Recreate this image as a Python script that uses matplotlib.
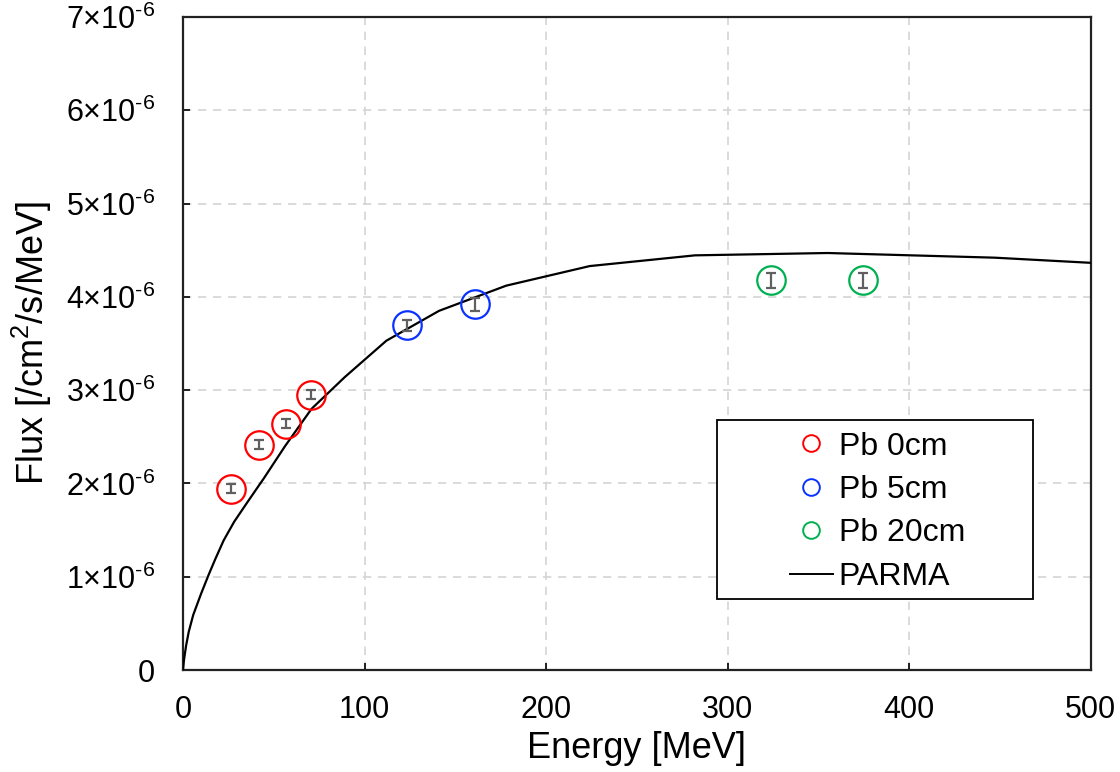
import matplotlib
matplotlib.use("Agg")
import matplotlib.pyplot as plt
from matplotlib.lines import Line2D
from matplotlib.patches import Rectangle
from matplotlib.ticker import FixedLocator, FuncFormatter

plt.rcParams['font.family'] = ['Liberation Sans', 'DejaVu Sans']
plt.rcParams['mathtext.fontset'] = 'custom'
plt.rcParams['mathtext.rm'] = 'Liberation Sans'
plt.rcParams['mathtext.it'] = 'Liberation Sans:italic'
plt.rcParams['mathtext.bf'] = 'Liberation Sans:bold'

# Measured flux (units of 1e-6 /cm2/s/MeV)
pb0_energy = [26.5, 41.9, 56.8, 70.6]
pb0_flux = [1.943, 2.416, 2.641, 2.953]
pb0_err = [0.05, 0.05, 0.05, 0.05]

pb5_energy = [123.5, 161.0]
pb5_flux = [3.693, 3.919]
pb5_err = [0.06, 0.07]

pb20_energy = [323.6, 374.3]
pb20_flux = [4.177, 4.177]
pb20_err = [0.08, 0.08]

# PARMA model spectrum
parma_energy = [0.0, 0.5, 1.0, 1.78, 3.16, 5.62, 10.0, 14.1, 17.8, 22.4, 28.2,
                35.5, 44.7, 56.2, 70.8, 89.1, 112.0, 141.0, 178.0, 224.0,
                282.0, 355.0, 447.0, 562.0]
parma_flux = [0.0, 0.10, 0.17, 0.27, 0.41, 0.59, 0.82, 1.02, 1.19, 1.39, 1.59,
              1.80, 2.06, 2.40, 2.80, 3.14, 3.53, 3.85, 4.12, 4.33,
              4.445, 4.47, 4.42, 4.30]

scale = 1e-6
series = [
    ("Pb 0cm", pb0_energy, pb0_flux, pb0_err, "#ff0000"),
    ("Pb 5cm", pb5_energy, pb5_flux, pb5_err, "#0a32ff"),
    ("Pb 20cm", pb20_energy, pb20_flux, pb20_err, "#00b050"),
]

fig = plt.figure(figsize=(11.2, 7.72), dpi=100)
ax = fig.add_axes([0.1634, 0.1321, 0.8106, 0.8459])

ax.plot(parma_energy, [v * scale for v in parma_flux], color="black", lw=1.6, zorder=3)

handles = []
for label, e, f, err, col in series:
    ax.errorbar(e, [v * scale for v in f], yerr=[v * scale for v in err],
                fmt="none", ecolor="#606060", elinewidth=1.6, capsize=3.5,
                capthick=1.6, zorder=4)
    ax.plot(e, [v * scale for v in f], "o", ms=20.5, mfc="none", mec=col,
            mew=1.6, zorder=5)
    handles.append(Line2D([], [], ls="none", marker="o", ms=12, mfc="none",
                          mec=col, mew=1.4, label=label))
handles.append(Line2D([], [], color="black", lw=1.4, label="PARMA"))

ax.set_xlim(0, 500)
ax.set_ylim(0, 7e-6)
ax.xaxis.set_major_locator(FixedLocator([0, 100, 200, 300, 400, 500]))
ax.yaxis.set_major_locator(FixedLocator([i * 1e-6 for i in range(8)]))


def fmt_y(v, pos):
    n = int(round(v / 1e-6))
    if n == 0:
        return "0"
    return r"$\mathregular{%d{\times}10^{\text{-6}}}$" % n


ax.yaxis.set_major_formatter(FuncFormatter(fmt_y))
ax.tick_params(direction="in", length=5, width=1.2, labelsize=22)
ax.tick_params(axis="y", pad=20)
ax.tick_params(axis="x", pad=18)
ax.grid(True, color="#d4d4d4", ls=(0, (5, 4)), lw=1.2)
for s in ax.spines.values():
    s.set_linewidth(1.6)
    s.set_color("#222222")

ax.set_xlabel("Energy [MeV]", fontsize=26, labelpad=4)
ax.set_ylabel(r"Flux [/cm$\mathregular{^2}$/s/MeV]", fontsize=26, labelpad=9)

# legend box drawn separately so it can be wider than its contents
box = Rectangle((0.588, 0.109), 0.348, 0.274, transform=ax.transAxes,
                facecolor="white", edgecolor="black", lw=1.3, zorder=6)
ax.add_patch(box)
leg = ax.legend(handles=handles, loc="upper left", bbox_to_anchor=(0.6685, 0.365),
                fontsize=23, frameon=False,
                handlelength=1.35, handletextpad=0.18, labelspacing=0.42,
                borderpad=0, borderaxespad=0)
leg.set_zorder(7)

fig.savefig("out.png", dpi=100)
